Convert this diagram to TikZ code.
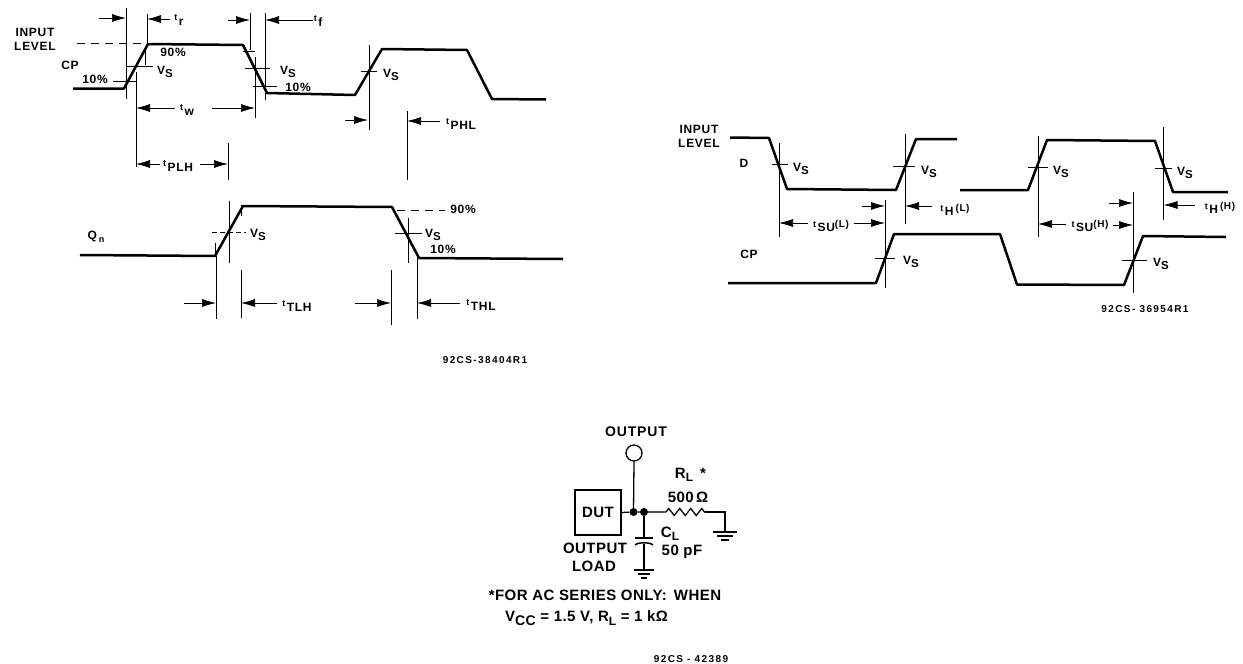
\documentclass[tikz,border=0pt]{standalone}
\usepackage{fontspec}
\setmainfont{Liberation Sans}
\newfontfamily\lblf[LetterSpace=6]{Liberation Sans}
\newfontfamily\idf[LetterSpace=14]{Liberation Sans}
\newfontfamily\boldf[LetterSpace=3]{Liberation Sans}
\usetikzlibrary{arrows.meta,decorations.pathmorphing}
\newcommand{\lowr}[2][11.5]{\raisebox{-3.5pt}{\fontsize{#1}{#1}\selectfont #2}}
\newcommand{\tlab}[1]{\raisebox{3pt}{\fontsize{9}{9}\selectfont t\,}\raisebox{-1.5pt}{\fontsize{12}{12}\selectfont #1}}
\newcommand{\smallpar}[1]{\raisebox{3pt}{\fontsize{10}{10}\selectfont (#1)}}
\newcommand{\vs}{V\lowr{S}}
\tikzset{
  wave/.style={line width=2.5pt,line join=round},
  guide/.style={line width=0.9pt},
  tick/.style={line width=0.8pt},
  dimarrow/.style={line width=0.7pt,-{Latex[length=14pt,width=8pt]}},
  lab/.style={inner sep=0pt,font=\lblf\bfseries\fontsize{12}{14}\selectfont,text=black},
  idtext/.style={inner sep=0pt,font=\idf\bfseries\fontsize{10}{11}\selectfont,text=black},
  cirl/.style={inner sep=0pt,font=\boldf\bfseries\fontsize{15}{16}\selectfont,text=black},
  wire/.style={line width=1.3pt},
  jdot/.style={circle,fill=black,inner sep=0pt,minimum size=8pt},
}
\begin{document}
\begin{tikzpicture}[x=1pt,y=-1pt]
\useasboundingbox (0,0) rectangle (1243,664);
\fill[white] (0,0) rectangle (1243,664);

% ---- left waveforms
\draw[wave] (73,88.5)--(124,88.5)--(148,44)--(243,45)--(267,93)--(355,95)--(382,49)--(467,50)--(492,99)--(546,99.5);
\draw[wave] (80,255)--(215,256)--(243,206)--(392,207)--(419,258)--(563,259);
\draw[guide] (126,8)--(126,99);
\draw[guide] (147,14)--(147,44);
\draw[guide] (136,72)--(136,167);
\draw[guide] (250,13)--(250,50);
\draw[guide] (265,13)--(265,100);
\draw[guide] (255,57)--(255,118);
\draw[guide] (228,143)--(228,180);
\draw[guide] (369,45)--(369,130);
\draw[guide] (407,111)--(407,180);
\draw[guide] (229,201)--(229,263);
\draw[guide] (216,256)--(216,319);
\draw[guide] (241,270)--(241,318);
\draw[guide] (391,270)--(391,325);
\draw[guide] (417,258)--(417,319);
\draw[guide] (408.5,218)--(408.5,263);
\draw[tick,dash pattern=on 8pt off 6pt] (77,43)--(146,43);
\draw[tick] (145,50)--(145,65);
\draw[tick] (127,66)--(153,66);
\draw[tick] (113,81)--(137,81);
\draw[tick] (243,51)--(255,51);
\draw[tick] (245,68)--(270,68);
\draw[tick] (253,86)--(277,86);
\draw[tick] (361,71)--(377,71);
\draw[tick,dash pattern=on 5pt off 3pt] (212,232)--(246,232);
\draw[tick,dash pattern=on 8pt off 6pt] (397,210)--(445,210);
\draw[tick] (395,233)--(422,233);
\draw[tick] (215,243)--(215,256);
\draw[tick] (241,205)--(241,216);
\draw[dimarrow] (99,18)--(126,18);
\draw[dimarrow] (170,19)--(147,19);
\draw[dimarrow] (228,20)--(250,20);
\draw[dimarrow] (313,20)--(265,20);
\draw[dimarrow] (175,108)--(136,108);
\draw[dimarrow] (212,108)--(255,108);
\draw[dimarrow] (160,164)--(136,164);
\draw[dimarrow] (200,164)--(228,164);
\draw[dimarrow] (345,120)--(368,120);
\draw[dimarrow] (440,121)--(407,121);
\draw[dimarrow] (184,303)--(216,303);
\draw[dimarrow] (277,303)--(241,303);
\draw[dimarrow] (355,303)--(391,303);
\draw[dimarrow] (460,303)--(417,303);

\node[lab,align=center] (il1) at (35,39) {INPUT\\LEVEL};
\node[lab] (cp1) at (70,65) {CP};
\node[lab] (p10a) at (95,79) {10\%};
\node[lab] (p90a) at (173,52) {90\%};
\node[lab] (vsa) at (165,72) {\vs};
\node[lab] (vsb) at (288,72) {\vs};
\node[lab] (p10b) at (298,87) {10\%};
\node[lab] (vsc) at (391,75) {\vs};
\node[lab] (tr) at (179,20) {\tlab{r}};
\node[lab] (tf) at (318,21) {\tlab{f}};
\node[lab] (tw) at (187,110) {\tlab{w}};
\node[lab] (tplh) at (178,166) {\tlab{PLH}};
\node[lab] (tphl) at (461,124) {\tlab{PHL}};
\node[lab] (qn) at (96,237) {Q\,\lowr[9]{n}};
\node[lab] (vsd) at (258,235) {\vs};
\node[lab] (ttlh) at (297,306) {\tlab{TLH}};
\node[lab] (p90c) at (463,209) {90\%};
\node[lab] (vse) at (433,235) {\vs};
\node[lab] (p10c) at (443,249) {10\%};
\node[lab] (tthl) at (481,305) {\tlab{THL}};
\node[idtext] (id1) at (485,360) {92CS-38404R1};

% ---- right waveforms
\draw[wave] (730,137.5)--(769,138)--(787,189)--(896,190)--(916,139)--(957,139);
\draw[wave] (960,190)--(1028,190)--(1047,140)--(1155,141)--(1173,192)--(1228,192);
\draw[wave] (728,283)--(876,283)--(894,234)--(1000,234)--(1017,284.5)--(1124,285)--(1143,236)--(1226,237);
\draw[guide] (779,143)--(779,237);
\draw[guide] (905,134)--(905,224);
\draw[guide] (885,200)--(885,288);
\draw[guide] (1038,136)--(1038,237);
\draw[guide] (1163.5,127)--(1163.5,220);
\draw[guide] (1133,192)--(1133,293);
\draw[tick] (772,164)--(788,164);
\draw[tick] (893,166)--(915,166);
\draw[tick] (875,258)--(895,258);
\draw[tick] (1028,167)--(1048,167);
\draw[tick] (1155,168)--(1172,168);
\draw[tick] (1122,260)--(1147,260);
\draw[dimarrow] (862,206)--(885,206);
\draw[dimarrow] (932,206)--(905,206);
\draw[dimarrow] (808,223)--(779,223);
\draw[dimarrow] (854,223)--(885,223);
\draw[dimarrow] (1109,203)--(1133,203);
\draw[dimarrow] (1195,205)--(1163.5,205);
\draw[dimarrow] (1066,224)--(1038,224);
\draw[dimarrow] (1113,225)--(1133,225);

\node[lab,align=center] (il2) at (699,136) {INPUT\\LEVEL};
\node[lab] (dl) at (744,163) {D};
\node[lab] (cp2) at (749,254) {CP};
\node[lab] (vsf) at (801,169) {\vs};
\node[lab] (vsg) at (929,172) {\vs};
\node[lab] (vsh) at (911,262) {\vs};
\node[lab] (vsi) at (1061,172) {\vs};
\node[lab] (vsj) at (1185,173) {\vs};
\node[lab] (vsk) at (1161,264) {\vs};
\node[lab] (tsul) at (831,226) {\tlab{SU}\smallpar{L}};
\node[lab] (thl) at (955,210) {\tlab{H}\,\smallpar{L}};
\node[lab] (tsuh) at (1090,226) {\tlab{SU}\smallpar{H}};
\node[lab] (thh) at (1220,208) {\tlab{H}\,\smallpar{H}};
\node[idtext] (id2) at (1145,309) {92CS- 36954R1};

% ---- circuit
\node[draw,line width=1.2pt,minimum width=46pt,minimum height=45pt,inner sep=0pt,font=\boldf\bfseries\fontsize{15}{15}\selectfont] (dut) at (598,512.5) {DUT};
\node[circle,draw,line width=1.3pt,minimum size=16pt,inner sep=0pt] (out) at (634,453) {};
\node[jdot] (j1) at (633.5,512) {};
\node[jdot] (j2) at (644,512) {};
\coordinate (rl) at (666,512);
\coordinate (rr) at (705,512);
\coordinate (g1) at (725,532);
\coordinate (c1) at (644,538);
\coordinate (c2) at (644,544);
\coordinate (g2) at (644,570);
\draw[wire] (dut.east)--(j1)--(j2)--(rl);
\draw[wire] (out.south)--(j1);
\draw[wire,decorate,decoration={zigzag,segment length=11pt,amplitude=3.5pt}] (rl)--(rr);
\draw[wire] (rr)-|(g1);
\draw[wire] (j2)--(c1);
\draw[wire] (c2)--(g2);
\draw[line width=1.5pt] (c1)++(-9,0)--++(18,0);
\draw[line width=1.5pt] (c2)++(-9,1) .. controls +(3,-3) and +(-3,-3) .. ++(18,0);
\draw[line width=1.3pt] (g1)++(-12,0)--++(24,0) ++(-20,4)--++(16,0) ++(-12,4)--++(8,0);
\draw[line width=1.3pt] (g2)++(-10,0)--++(20,0) ++(-16,4)--++(12,0) ++(-9,4)--++(6,0);

\node[inner sep=0pt,font=\lblf\bfseries\fontsize{14}{14}\selectfont] (outl) at (636,432) {OUTPUT};
\node[cirl] (rll) at (684,475) {R\lowr[12]{L}};
\node[cirl] (star) at (703,473) {*};
\node[cirl] (r500) at (688,497) {500\,Ω};
\node[cirl] (cll) at (670,534) {C\lowr[12]{L}};
\node[cirl] (c50) at (682,552) {50 pF};
\node[cirl] (ol1) at (595,548) {OUTPUT};
\node[cirl] (ol2) at (594,566) {LOAD};
\node[cirl] (n1) at (605,595) {*FOR AC SERIES ONLY:\, WHEN};
\node[cirl,anchor=west] (n2) at (505,618) {V\lowr[14]{CC} = 1.5 V, R\lowr[12]{L} = 1 kΩ};
\node[idtext] (id3) at (691,659) {92CS - 42389};
\end{tikzpicture}
\end{document}
